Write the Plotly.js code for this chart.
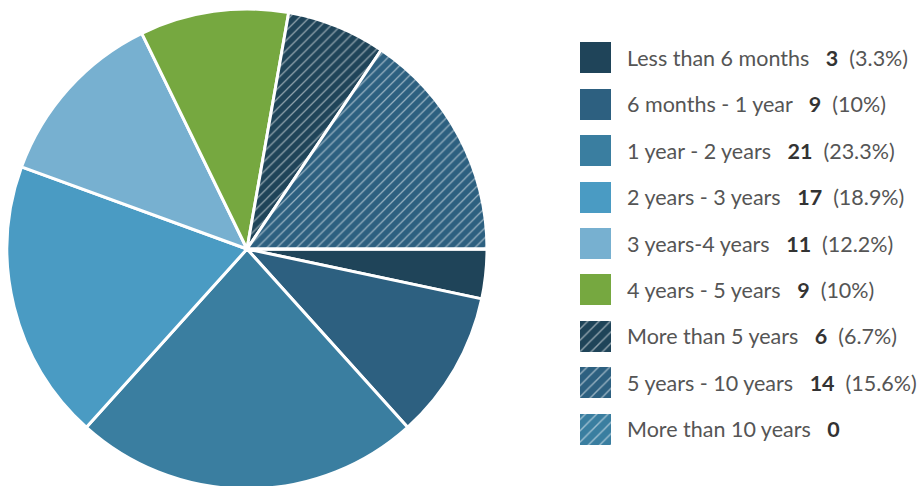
<!DOCTYPE html>
<html>
<head>
<meta charset="utf-8">
<script src="https://cdn.plot.ly/plotly-3.0.1.min.js"></script>
<style>
html,body{margin:0;padding:0;overflow:hidden;background:#fff;}
#chart{width:918px;height:490px;}
</style>
</head>
<body>
<div id="chart"></div>
<script>
const categories = ["Less than 6 months","6 months - 1 year","1 year - 2 years","2 years - 3 years","3 years-4 years","4 years - 5 years","More than 5 years","5 years - 10 years","More than 10 years"];
const counts = [3, 9, 21, 17, 11, 9, 6, 14, 0];
const colors = ["#1f4459","#2d6080","#3a7ea0","#4a9bc3","#77b0d0","#76a840","#1f4459","#2d6080","#3a7ea0"];
const hatched = ["","","","","","","/","/","/"];

const W = 918, H = 490;
const total = counts.reduce((a,b)=>a+b,0);
function pctLabel(v){
  if (v === 0) return "";
  let p = (v/total*100).toFixed(1);
  if (p.endsWith(".0")) p = p.slice(0,-2);
  return "\u00a0\u00a0(" + p + "%)";
}

const pie = {
  type: "pie",
  labels: categories,
  values: counts,
  sort: false,
  direction: "clockwise",
  rotation: 90,
  textinfo: "none",
  hoverinfo: "label+value+percent",
  showlegend: false,
  domain: {x: [7/W, 487/W], y: [1/H, 481/H]},
  marker: {
    colors: colors,
    line: {color: "#ffffff", width: 3},
    pattern: {shape: hatched, fgcolor: "#ffffff", size: 7, solidity: 0.18, fillmode: "overlay"}
  }
};

const idx = categories.map((c,i)=>i);
const swatches = {
  type: "bar",
  orientation: "h",
  y: idx,
  x: categories.map(()=>1),
  width: 31/46.375,
  xaxis: "x",
  yaxis: "y",
  showlegend: false,
  hoverinfo: "skip",
  marker: {
    color: colors,
    line: {width: 0},
    pattern: {shape: hatched, fgcolor: "#ffffff", size: 8, solidity: 0.18, fillmode: "overlay"}
  }
};

const annotations = categories.map((c,i)=>({
  xref: "paper", yref: "y",
  x: 625/W, y: i,
  xanchor: "left", yanchor: "middle",
  showarrow: false,
  text: c + "\u00a0\u00a0\u00a0<b style='color:#333'>" + counts[i] + "</b>" + pctLabel(counts[i]),
  font: {family: "Lato, 'Open Sans', sans-serif", size: 21.5, color: "#555"}
}));

const layout = {
  width: W, height: H,
  margin: {l:0, r:0, t:0, b:0},
  paper_bgcolor: "#fff",
  plot_bgcolor: "rgba(0,0,0,0)",
  xaxis: {domain: [580/W, 611/W], range: [0,1], visible: false, fixedrange: true},
  yaxis: {domain: [(H-452.2)/H, (H-34.8)/H], range: [8.5, -0.5], visible: false, fixedrange: true},
  annotations: annotations,
  bargap: 0
};

Plotly.newPlot("chart", [pie, swatches], layout, {displayModeBar: false, staticPlot: true});
</script>
</body>
</html>
